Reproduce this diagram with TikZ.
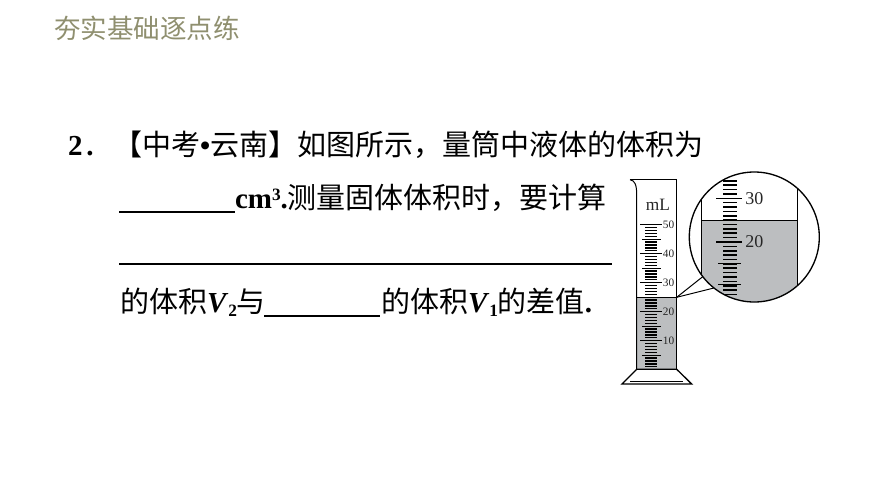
\documentclass[tikz,border=0pt]{standalone}
\usepackage{fontspec}
\setmainfont{Liberation Serif}
\newfontfamily\cjk{Noto Sans CJK SC}
\usepackage{xcolor}
\usetikzlibrary{calc}
\usetikzlibrary{positioning}
\definecolor{liquid}{HTML}{BCBEC0}
\definecolor{headline}{HTML}{8F8F6F}
\newcommand{\bodysize}{\fontsize{21.75}{24}\selectfont}
\newcommand{\lowbold}[1]{\raisebox{-.35ex}{\fontsize{13}{14}\selectfont\textbf{#1}}}

\begin{document}
\begin{tikzpicture}[x=.75pt,y=-.75pt,line width=.75pt]
	\tikzstyle{every node}=[inner sep=0pt, outer sep=0pt, text=black]
	\tikzstyle{textline}=[anchor=base west, font=\bodysize\cjk]
	\tikzstyle{blank}=[line width=1.4pt]
	\tikzstyle{scalelabel}=[font=\fontsize{8.5}{10}\selectfont, text=black!85]
	\tikzstyle{lenslabel}=[font=\fontsize{13.5}{15}\selectfont, text=black!85]
	\useasboundingbox (0,0) rectangle (870,489);

	\node[anchor=base west, font=\fontsize{19.9}{22}\selectfont\cjk, text=headline] (title) at (54,38) {夯实基础逐点练};

	\node[textline] (numA) at (68,155) {{\fontspec{Liberation Serif}\textbf{2}\kern 3pt\textbf{.}}};
	\node[textline] (lineA) at (113,155) {【中考{\fontspec{Liberation Serif}\textbf{•}}云南】如图所示，量筒中液体的体积为};
	\node[textline] (lineB) at (235,208) {{\fontspec{Liberation Serif}\textbf{cm}\raisebox{.55ex}{\fontsize{13}{14}\selectfont\textbf{3}}\textbf{.}}测量固体体积时，要计算};
	\node[textline] (lineC) at (120,312) {的体积{\fontspec{Liberation Serif}\textbf{\textit{V}}\lowbold{2}}与};
	\node[textline] (lineD) at (381,312) {的体积{\fontspec{Liberation Serif}\textbf{\textit{V}}\lowbold{1}}的差值{\fontspec{Liberation Serif}\textbf{.}}};

	\coordinate (blankAl) at (119,212);
	\coordinate (blankAr) at (235,212);
	\coordinate (blankBl) at (119,264);
	\coordinate (blankBr) at (612,264);
	\coordinate (blankCl) at (264,316);
	\coordinate (blankCr) at (380,316);
	\draw[blank] (blankAl) -- (blankAr);
	\draw[blank] (blankBl) -- (blankBr);
	\draw[blank] (blankCl) -- (blankCr);

	\fill[liquid] (636.7,297.3) rectangle (676.7,369.3);
	\draw (630,179.7) -- (676.7,179.7) -- (676.7,369.3);
	\draw (630,179.7) .. controls (635,180.5) and (636.7,185) .. (636.7,195) -- (636.7,369.3);
	\draw[line width=1pt] (622,384) -- (636.7,369.3) -- (676.7,369.3) -- (691.7,384) -- cycle;
	\draw (630,381.5) -- (682.7,381.5);
	\draw[line width=1pt] (636.7,297.3) -- (676.7,297.3);

	\foreach \v in {1,...,49}
		\draw[line width=1pt] (645,369.7-2.9*\v) -- (657.3,369.7-2.9*\v);
	\foreach \v in {5,15,25,35,45}
		\draw[line width=1pt] (642.3,369.7-2.9*\v) -- (660.7,369.7-2.9*\v);
	\foreach \v in {10,20,30,40,50}{
		\draw[line width=1pt] (640,369.7-2.9*\v) -- (661.7,369.7-2.9*\v);
		\node[scalelabel] (mark\v) at (668.5,369.7-2.9*\v) {\v};
	}
	\node[font=\fontsize{13}{14}\selectfont, text=black!85] (unit) at (658,205) {mL};

	\coordinate (lensc) at (754.3,237);
	\coordinate (level) at (676.7,297.3);
	\coordinate (lensA) at (702.7,276.7);
	\coordinate (lensB) at (715,287.7);
	\path[draw] (level) edge (lensA)
		(level) edge (lensB);

	\begin{scope}
		\clip (lensc) circle (65);
		\fill[liquid] (701.7,220.7) rectangle (797.7,310);
		\draw (701.7,170) -- (701.7,310);
		\draw (797.7,170) -- (797.7,310);
		\draw[line width=1pt] (701.7,220.7) -- (797.7,220.7);
		\foreach \v in {-14,...,12}
			\draw[line width=1.2pt] (723.3,242+4.37*\v) -- (736.7,242+4.37*\v);
		\draw[line width=1pt] (716,198.3) -- (742.3,198.3);
		\draw[line width=1pt] (716,242) -- (742.3,242);
		\draw[line width=1pt] (718.3,263.5) -- (740.7,263.5);
		\draw[line width=1pt] (718.3,284.5) -- (740.7,284.5);
	\end{scope}
	\node[lenslabel] (markB) at (754.4,198.3) {30};
	\node[lenslabel] (markA) at (754.4,242) {20};
	\node[circle, draw, line width=1pt, minimum size=97.5pt] (lens) at (lensc) {};
\end{tikzpicture}
\end{document}
